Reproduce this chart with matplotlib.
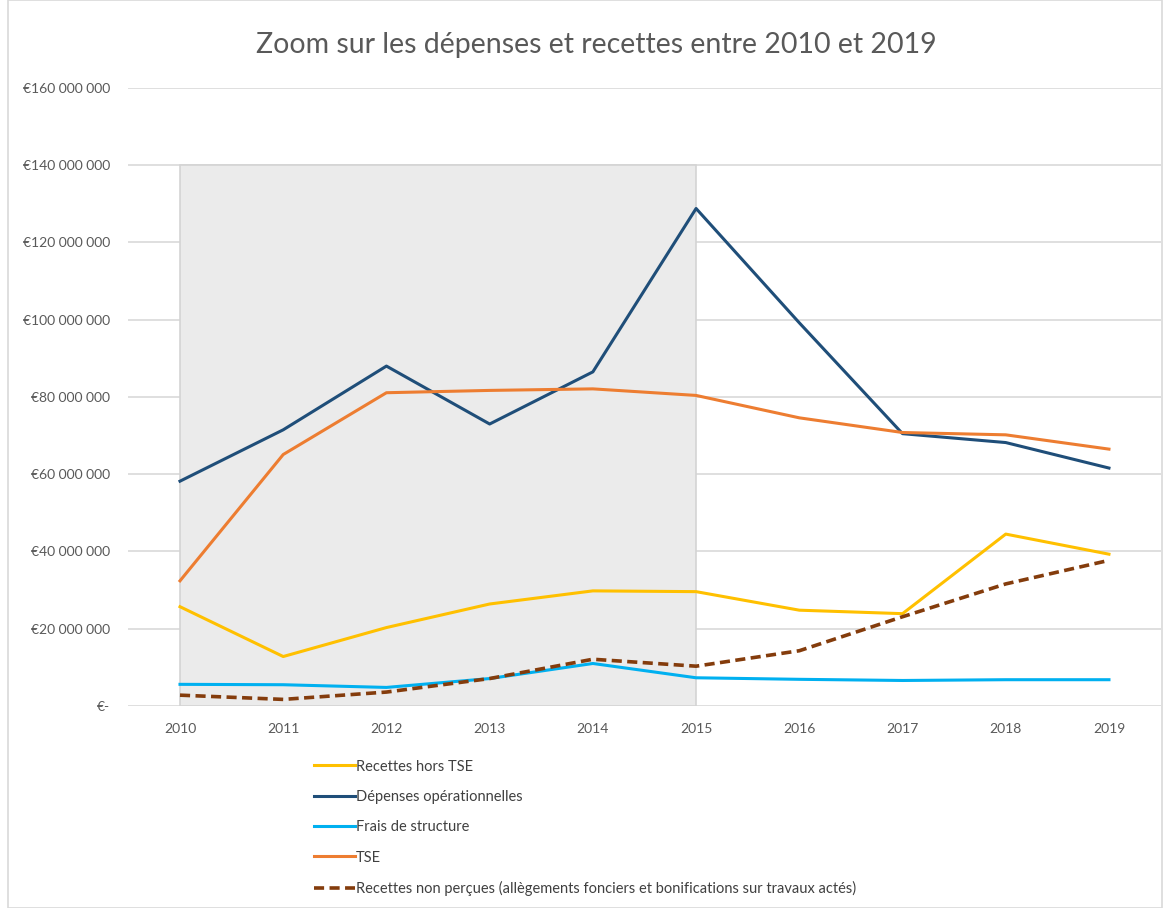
import matplotlib.pyplot as plt
from matplotlib.patches import Rectangle
from matplotlib.ticker import FuncFormatter

plt.rcParams['font.family'] = ['Lato', 'DejaVu Sans']

years = ['2010', '2011', '2012', '2013', '2014', '2015', '2016', '2017', '2018', '2019']

# values in euros
recettes_hors_tse = [25.7e6, 12.8e6, 20.3e6, 26.4e6, 29.8e6, 29.6e6, 24.8e6, 23.9e6, 44.5e6, 39.3e6]
depenses_oper = [58.2e6, 71.5e6, 88.0e6, 73.0e6, 86.5e6, 128.8e6, 99.2e6, 70.5e6, 68.2e6, 61.6e6]
frais_structure = [5.6e6, 5.5e6, 4.8e6, 7.1e6, 11.0e6, 7.3e6, 6.9e6, 6.6e6, 6.8e6, 6.8e6]
tse = [32.4e6, 65.1e6, 81.1e6, 81.7e6, 82.1e6, 80.4e6, 74.6e6, 70.8e6, 70.2e6, 66.5e6]
recettes_non_percues = [2.8e6, 1.7e6, 3.6e6, 7.1e6, 12.1e6, 10.3e6, 14.3e6, 23.1e6, 31.6e6, 37.7e6]

y_ticks = [0, 20e6, 40e6, 60e6, 80e6, 100e6, 120e6, 140e6, 160e6]


def euro_fmt(v, pos):
    if v == 0:
        return '€-'
    return '€' + f'{int(v):,}'.replace(',', ' ')


fig = plt.figure(figsize=(11.65, 9.08), dpi=100)
fig.patches.append(Rectangle((0.007, 0.0), 0.99, 1.0, transform=fig.transFigure,
                             fill=False, edgecolor='#d9d9d9', linewidth=1.2))

ax = fig.add_axes([0.1102, 0.2225, 0.886, 0.6806])
x = list(range(len(years)))

# shaded zoom period
ax.add_patch(Rectangle((0, 0), 5, 140e6, facecolor='#ebebeb', edgecolor='#d4d4d4',
                       linewidth=1.2, zorder=1))

ax.plot(x, recettes_hors_tse, color='#ffc000', lw=2.2, label='Recettes hors TSE', zorder=3)
ax.plot(x, depenses_oper, color='#1f4e79', lw=2.2, label='Dépenses opérationnelles', zorder=3)
ax.plot(x, frais_structure, color='#00b0f0', lw=2.2, label='Frais de structure', zorder=3)
ax.plot(x, tse, color='#ed7d31', lw=2.2, label='TSE', zorder=3)
ax.plot(x, recettes_non_percues, color='#843c0c', lw=2.6, ls=(0, (2.8, 1.5)),
        label='Recettes non perçues (allègements fonciers et bonifications sur travaux actés)', zorder=4)

ax.set_xlim(-0.5, len(years) - 0.5)
ax.set_ylim(0, 160e6)
ax.set_xticks(x)
ax.set_xticklabels(years)
ax.set_yticks(y_ticks)
ax.yaxis.set_major_formatter(FuncFormatter(euro_fmt))
ax.grid(axis='y', color='#d9d9d9', lw=1.2, zorder=0)
ax.set_axisbelow(True)
for s in ax.spines.values():
    s.set_visible(False)
ax.tick_params(axis='both', length=0, labelsize=10, colors='#595959')
ax.tick_params(axis='y', pad=13)
ax.tick_params(axis='x', pad=12)

fig.text(0.512, 0.95, 'Zoom sur les dépenses et recettes entre 2010 et 2019',
         ha='center', va='center', fontsize=20.5, color='#595959')

leg = fig.legend(loc='upper left', bbox_to_anchor=(0.258, 0.178), frameon=False,
                 fontsize=10.5, handlelength=2.8, handletextpad=0.1, labelspacing=1.12)
for t in leg.get_texts():
    t.set_color('#404040')

fig.savefig('out.png', dpi=100, facecolor='white')
